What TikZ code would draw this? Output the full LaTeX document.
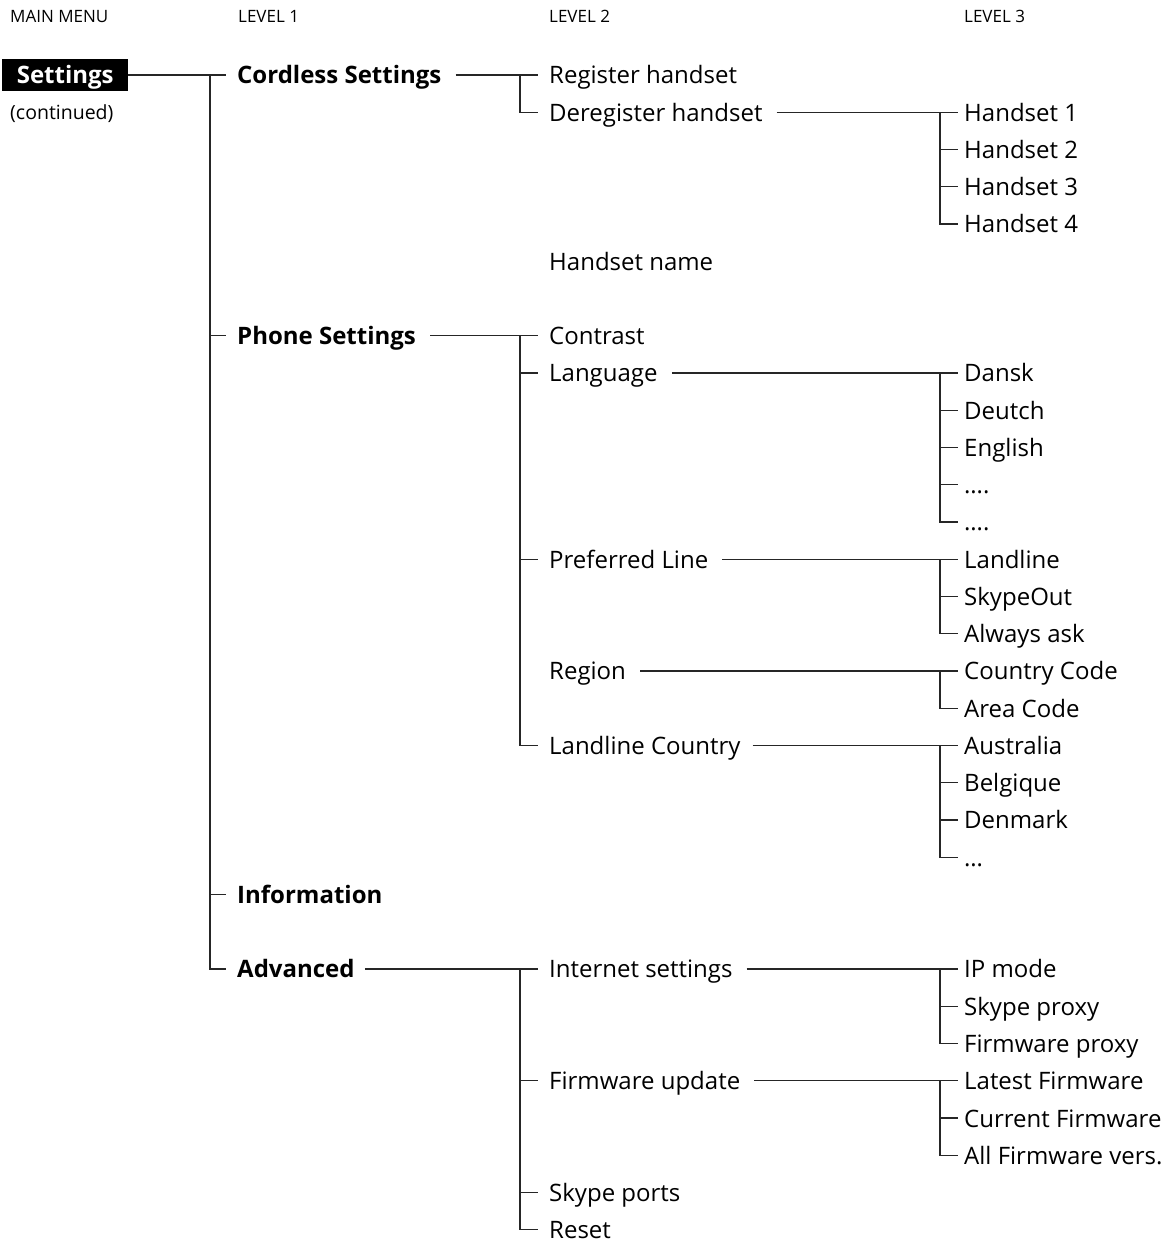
\documentclass[tikz,border=0pt]{standalone}
\usepackage{fontspec}
\setmainfont{Open Sans}
\usepackage{tikz}
\usetikzlibrary{calc}

\begin{document}
\begin{tikzpicture}[x=1pt, y=-37.25pt,
  item/.style={anchor=west, inner sep=0pt, text height=18pt, text depth=0pt,
               font=\fontsize{24}{24}\selectfont},
  lvone/.style={item, font=\fontsize{24}{24}\selectfont\bfseries},
  menubox/.style={lvone, fill=black, text=white, inner xsep=10pt, inner ysep=7pt,
                  minimum width=126pt},
  note/.style={anchor=west, inner sep=0pt, text height=14.5pt, text depth=0pt,
               font=\fontsize{19.5}{19.5}\selectfont},
  header/.style={anchor=base west, inner sep=0pt, font=\fontsize{17}{17}\selectfont},
  conn/.style={draw=black!85, line width=1.2pt}]
  \useasboundingbox (0,-2.013) rectangle (1168,31.356);
  % column headings
  \node[header] (hmain) at (10,-1.405)  {MAIN MENU};
  \node[header] (hone)  at (238,-1.405) {LEVEL 1};
  \node[header] (htwo)  at (549,-1.405) {LEVEL 2};
  \node[header] (hthr)  at (964,-1.405) {LEVEL 3};
  % junction columns
  \coordinate (jone) at (210,0);
  \coordinate (jtwo) at (520,0);
  \coordinate (jthree) at (940,0);
  % main menu
  \node[menubox] (settings) at (2,0) {Settings};
  \node[note] (cont) at (10,1) {(continued)};
  % level 1
  \node[lvone] (cordless) at (237,0)  {Cordless Settings};
  \node[lvone] (phone)    at (237,7)  {Phone Settings};
  \node[lvone] (info)     at (237,22) {Information};
  \node[lvone] (adv)      at (237,24) {Advanced};
  % level 2
  \node[item] (reg)      at (549,0)  {Register handset};
  \node[item] (dereg)    at (549,1)  {Deregister handset};
  \node[item] (hname)    at (549,5)  {Handset name};
  \node[item] (contrast) at (549,7)  {Contrast};
  \node[item] (lang)     at (549,8)  {Language};
  \node[item] (pref)     at (549,13) {Preferred Line};
  \node[item] (region)   at (549,16) {Region};
  \node[item] (lcountry) at (549,18) {Landline Country};
  \node[item] (inet)     at (549,24) {Internet settings};
  \node[item] (fwup)     at (549,27) {Firmware update};
  \node[item] (sports)   at (549,30) {Skype ports};
  \node[item] (reset)    at (549,31) {Reset};
  % level 3
  \node[item] (hsa) at (964,1) {Handset 1};
  \node[item] (hsb) at (964,2) {Handset 2};
  \node[item] (hsc) at (964,3) {Handset 3};
  \node[item] (hsd) at (964,4) {Handset 4};
  \node[item] (dansk)   at (964,8)  {Dansk};
  \node[item] (deutch)  at (964,9)  {Deutch};
  \node[item] (english) at (964,10) {English};
  \node[item] (dotsa)   at (964,11) {….};
  \node[item] (dotsb)   at (964,12) {….};
  \node[item] (landline) at (964,13) {Landline};
  \node[item] (skypeout) at (964,14) {SkypeOut};
  \node[item] (always)   at (964,15) {Always ask};
  \node[item] (ccode) at (964,16) {Country Code};
  \node[item] (acode) at (964,17) {Area Code};
  \node[item] (austr) at (964,18) {Australia};
  \node[item] (belg)  at (964,19) {Belgique};
  \node[item] (denm)  at (964,20) {Denmark};
  \node[item] (dotsc) at (964,21) {…};
  \node[item] (ipmode) at (964,24) {IP mode};
  \node[item] (sproxy) at (964,25) {Skype proxy};
  \node[item] (fproxy) at (964,26) {Firmware proxy};
  \node[item] (latest)  at (964,27) {Latest Firmware};
  \node[item] (current) at (964,28) {Current Firmware};
  \node[item] (allfw)   at (964,29) {All Firmware vers.};
  % main menu to level 1
  \draw[conn] (settings.east) -- ([xshift=-11pt]cordless.west);
  \draw[conn] (cordless.west -| jone) |- ([xshift=-11pt]adv.west);
  \foreach \n in {phone,info}
    \draw[conn] (\n.west -| jone) -- ([xshift=-11pt]\n.west);
  % level 1 to level 2
  \draw[conn] ([xshift=14pt]cordless.east) -- ([xshift=-11pt]reg.west);
  \draw[conn] (reg.west -| jtwo) |- ([xshift=-11pt]dereg.west);
  \draw[conn] ([xshift=14pt]phone.east) -- ([xshift=-11pt]contrast.west);
  \draw[conn] (contrast.west -| jtwo) |- ([xshift=-11pt]lcountry.west);
  \foreach \n in {lang,pref}
    \draw[conn] (\n.west -| jtwo) -- ([xshift=-11pt]\n.west);
  \draw[conn] ([xshift=10pt]adv.east) -- ([xshift=-11pt]inet.west);
  \draw[conn] (inet.west -| jtwo) |- ([xshift=-11pt]reset.west);
  \foreach \n in {fwup,sports}
    \draw[conn] (\n.west -| jtwo) -- ([xshift=-11pt]\n.west);
  % level 2 to level 3
  \draw[conn] ([xshift=14pt]dereg.east) -- ([xshift=-6pt]hsa.west);
  \draw[conn] (hsa.west -| jthree) |- ([xshift=-6pt]hsd.west);
  \draw[conn] ([xshift=14pt]lang.east) -- ([xshift=-6pt]dansk.west);
  \draw[conn] (dansk.west -| jthree) |- ([xshift=-6pt]dotsb.west);
  \draw[conn] ([xshift=14pt]pref.east) -- ([xshift=-6pt]landline.west);
  \draw[conn] (landline.west -| jthree) |- ([xshift=-6pt]always.west);
  \draw[conn] ([xshift=14pt]region.east) -- ([xshift=-6pt]ccode.west);
  \draw[conn] (ccode.west -| jthree) |- ([xshift=-6pt]acode.west);
  \draw[conn] ([xshift=12pt]lcountry.east) -- ([xshift=-6pt]austr.west);
  \draw[conn] (austr.west -| jthree) |- ([xshift=-6pt]dotsc.west);
  \draw[conn] ([xshift=14pt]inet.east) -- ([xshift=-6pt]ipmode.west);
  \draw[conn] (ipmode.west -| jthree) |- ([xshift=-6pt]fproxy.west);
  \draw[conn] ([xshift=14pt]fwup.east) -- ([xshift=-6pt]latest.west);
  \draw[conn] (latest.west -| jthree) |- ([xshift=-6pt]allfw.west);
  \foreach \n in {hsb,hsc,deutch,english,dotsa,skypeout,belg,denm,sproxy,current}
    \draw[conn] (\n.west -| jthree) -- ([xshift=-6pt]\n.west);
\end{tikzpicture}
\end{document}
